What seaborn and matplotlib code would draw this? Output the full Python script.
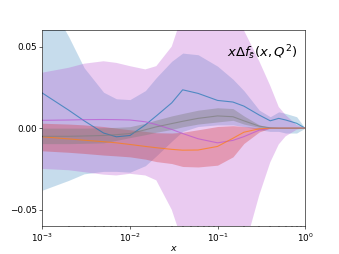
import matplotlib
matplotlib.use("Agg")
import matplotlib.pyplot as plt
import numpy as np
import pandas as pd
import seaborn as sns

# x grid
x = [1e-3, 2e-3, 3e-3, 5e-3, 7e-3, 1e-2, 1.5e-2, 2e-2, 3e-2, 4e-2,
     6e-2, 0.1, 0.15, 0.2, 0.3, 0.4, 0.5, 0.6, 0.8, 1.0]

# blue
blue_mid = [0.0215, 0.011, 0.0045, -0.003, -0.0053, -0.0045, 0.002, 0.0075, 0.0155, 0.0235,
            0.0213, 0.017, 0.016, 0.0135, 0.008, 0.0045, 0.006, 0.005, 0.003, 0.0]
blue_lo = [-0.038, -0.032, -0.028, -0.0265, -0.0265, -0.027, -0.023, -0.017, -0.008, -0.002,
           0.001, 0.002, 0.002, 0.001, -0.001, -0.002, -0.002, -0.003, -0.003, 0.0]
blue_hi = [0.085, 0.056, 0.037, 0.022, 0.018, 0.0175, 0.023, 0.031, 0.041, 0.046,
           0.045, 0.038, 0.030, 0.023, 0.011, 0.007, 0.010, 0.009, 0.007, 0.0]

# purple
purple_mid = [0.0048, 0.005, 0.0052, 0.0053, 0.0052, 0.005, 0.0039, 0.0022, -0.0008, -0.0033,
              -0.0065, -0.009, -0.0075, -0.0052, -0.0012, 0.0, 0.0, 0.0, 0.0, 0.0]
purple_lo = [-0.025, -0.0258, -0.027, -0.0285, -0.029, -0.028, -0.029, -0.032, -0.050, -0.070,
             -0.085, -0.09, -0.085, -0.075, -0.041, -0.021, -0.010, -0.005, -0.001, 0.0]
purple_hi = [0.034, 0.037, 0.0395, 0.041, 0.040, 0.038, 0.036, 0.038, 0.050, 0.070,
             0.09, 0.085, 0.075, 0.060, 0.041, 0.026, 0.013, 0.008, 0.002, 0.0]

# orange
orange_mid = [-0.0053, -0.0066, -0.0074, -0.0083, -0.009, -0.010, -0.0112, -0.012, -0.013, -0.0135,
              -0.0134, -0.0112, -0.0062, -0.0025, -0.0004, 0.0, 0.0, 0.0, 0.0, 0.0]
orange_lo = [-0.0139, -0.0148, -0.0155, -0.0165, -0.017, -0.0176, -0.019, -0.0205, -0.0217, -0.0235,
             -0.0238, -0.0227, -0.0176, -0.0094, -0.0023, 0.0, 0.0, 0.0, 0.0, 0.0]
orange_hi = [0.003, 0.0025, 0.002, 0.001, 0.0, -0.001, -0.002, -0.0028, -0.003, -0.0025,
             -0.001, 0.001, 0.0015, 0.001, 0.0003, 0.0, 0.0, 0.0, 0.0, 0.0]

# gray
gray_mid = [-0.005, -0.005, -0.0048, -0.0045, -0.004, -0.0033, -0.001, 0.0008, 0.0028, 0.0042,
            0.006, 0.0075, 0.007, 0.0045, 0.0012, 0.0002, 0.0, 0.0, 0.0, 0.0]
gray_lo = [-0.0095, -0.0095, -0.0093, -0.009, -0.0075, -0.0058, -0.004, -0.0025, -0.0008, 0.0008,
           0.0025, 0.0038, 0.0048, 0.0025, 0.0004, 0.0, 0.0, 0.0, 0.0, 0.0]
gray_hi = [0.0, 0.0, 0.0, 0.0003, 0.0005, 0.0009, 0.003, 0.005, 0.0075, 0.009,
           0.011, 0.0125, 0.012, 0.0075, 0.002, 0.0004, 0.0, 0.0, 0.0, 0.0]

series = [
    ("blue", blue_mid, blue_lo, blue_hi, "C0", "C0", 0.25),
    ("purple", purple_mid, purple_lo, purple_hi, "mediumorchid", "mediumorchid", 0.3),
    ("orange", orange_mid, orange_lo, orange_hi, "C1", "C3", 0.3),
    ("gray", gray_mid, gray_lo, gray_hi, "C7", "C7", 0.4),
]

fig, ax = plt.subplots(figsize=(6.4, 4.8), dpi=339 / 6.4)
for name, mid, lo, hi, lc, bc, a in series:
    ax.fill_between(x, lo, hi, color=bc, alpha=a, linewidth=0)
for name, mid, lo, hi, lc, bc, a in series:
    df = pd.DataFrame({"x": x, "y": mid})
    sns.lineplot(data=df, x="x", y="y", ax=ax, color=lc, linewidth=1.5, alpha=0.7)

ax.set_xscale("log")
ax.set_xlim(1e-3, 1)
ax.set_ylim(-0.06, 0.06)
ax.set_yticks([-0.05, 0.0, 0.05])
ax.tick_params(labelsize=12)
ax.set_xlabel("$x$", fontsize=13, labelpad=0)
ax.set_ylabel("")
ax.text(0.97, 0.885, r"$x\Delta f_{\bar{s}}(x,Q^2)$", transform=ax.transAxes,
        ha="right", va="center", fontsize=18)
fig.savefig("out.png")
